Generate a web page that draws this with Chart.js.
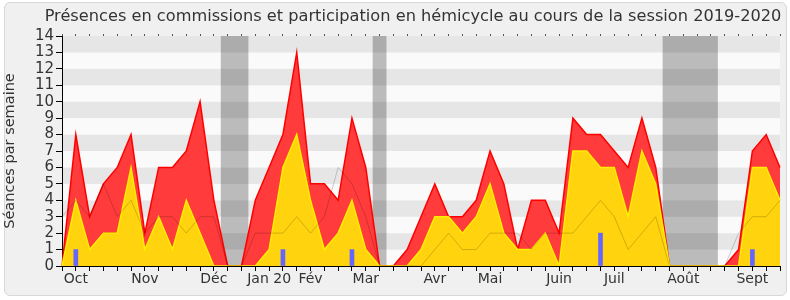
<!DOCTYPE html>
<html>
<head>
<meta charset="utf-8">
<script src="https://cdn.jsdelivr.net/npm/chart.js@4"></script>
<style>
  body { margin: 0; background: #fff; }
  #panel { position: absolute; left: 4px; top: 2px; width: 781px; height: 292px;
           background: #f0f0f0; border: 1px solid #d8d8d8; border-radius: 6px; }
  #chart { position: absolute; left: 0; top: 0; }
</style>
</head>
<body>
<div id="panel"></div>
<canvas id="chart" width="790" height="300"></canvas>
<script>
// one point per week, session 2019-2020
const monthIndex = [1, 6, 11, 15, 18, 22, 27, 31, 36, 40, 45, 50];
const monthNames = ["Oct", "Nov", "Déc", "Jan 20", "Fév", "Mar", "Avr", "Mai", "Juin", "Juil", "Août", "Sept"];

// presence totale (rouge), commissions (jaune), mediane (gris), questions (bleu)
const totalSeances = [0, 8, 3, 5, 6, 8, 2, 6, 6, 7, 10, 4, 0, 0, 4, 6, 8, 13, 5, 5, 4, 9, 6, 0, 0, 1, 3,
  5, 3, 3, 4, 7, 5, 1, 4, 4, 2, 9, 8, 8, 7, 6, 9, 6, 0, 0, 0, 0, 0, 1, 7, 8, 6];
const commissions = [0, 4, 1, 2, 2, 6, 1, 3, 1, 4, 2, 0, 0, 0, 0, 1, 6, 8, 4, 1, 2, 4, 1, 0, 0, 0, 1,
  3, 3, 2, 3, 5, 2, 1, 1, 2, 0, 7, 7, 6, 6, 3, 7, 5, 0, 0, 0, 0, 0, 0, 6, 6, 4];
const mediane = [3, 4, 3, 5, 3, 4, 2, 3, 3, 2, 3, 3, 0, 0, 2, 2, 2, 3, 2, 3, 6, 5, 3, 0, 0, 0, 0,
  1, 2, 1, 1, 2, 2, 2, 1, 2, 2, 2, 3, 4, 3, 1, 2, 3, 0, 0, 0, 0, 0, 2, 3, 3, 4];
const questions = [null, 1, null, null, null, null, null, null, null, null, null, null, null, null,
  null, null, 1, null, null, null, null, 1, null, null, null, null, null, null, null, null, null,
  null, null, null, null, null, null, null, null, 2, null, null, null, null, null, null, null, null,
  null, null, 1, null, null];

// vacances parlementaires (en semaines)
const vacStart = [11.5, 22.5, 43.5];
const vacEnd = [13.5, 23.5, 47.5];

const weekLabels = totalSeances.map((v, i) => {
  const k = monthIndex.indexOf(i);
  return k >= 0 ? monthNames[k] : "";
});

Chart.defaults.font.family = "'DejaVu Sans', sans-serif";
Chart.defaults.color = "#333";

const backgroundPlugin = {
  id: "bg",
  beforeDraw(chart) {
    const { ctx, chartArea: a, scales } = chart;
    const y = scales.y, x = scales.x;
    ctx.save();
    for (let v = 0; v < 14; v++) {
      ctx.fillStyle = v % 2 === 0 ? "#fafafa" : "#e6e6e6";
      const top = y.getPixelForValue(v + 1), bot = y.getPixelForValue(v);
      ctx.fillRect(a.left, top, a.right - a.left, bot - top);
    }
    ctx.fillStyle = "rgba(0,0,0,0.25)";
    vacStart.forEach((s, i) => {
      const x0 = x.getPixelForValue(s), x1 = x.getPixelForValue(vacEnd[i]);
      ctx.fillRect(x0, a.top, x1 - x0, a.bottom - a.top);
    });
    ctx.restore();
  },
  afterDraw(chart) {
    const ctx = chart.ctx;
    ctx.save();
    ctx.font = "16.2px 'DejaVu Sans'";
    ctx.fillStyle = "#333";
    ctx.textAlign = "center";
    ctx.textBaseline = "middle";
    ctx.fillText("Présences en commissions et participation en hémicycle au cours de la session 2019-2020", 413, 17);
    ctx.restore();
  }
};

new Chart(document.getElementById("chart"), {
  type: "line",
  data: {
    labels: weekLabels,
    datasets: [
      { type: "bar", data: questions, backgroundColor: "#6666ff", barThickness: 4, order: 1 },
      { data: mediane, borderColor: "rgba(0,0,0,0.18)", borderWidth: 1, pointRadius: 0, fill: false, order: 2 },
      { data: commissions, borderColor: "#ffee00", borderWidth: 1.5, pointRadius: 0,
        fill: "origin", backgroundColor: "#ffd30d", order: 3 },
      { data: totalSeances, borderColor: "#ff0000", borderWidth: 1.5, pointRadius: 0,
        fill: "origin", backgroundColor: "#ff3b3b", order: 4 }
    ]
  },
  options: {
    responsive: false,
    animation: false,
    devicePixelRatio: 1,
    layout: { padding: { top: 32, right: 10, left: 0, bottom: 0 } },
    plugins: { legend: { display: false }, tooltip: { enabled: false } },
    scales: {
      x: {
        offset: false,
        grid: { offset: false, drawOnChartArea: false, color: "#000", tickLength: 5 },
        border: { color: "#000" },
        ticks: { autoSkip: false, maxRotation: 0, padding: 0, font: { size: 14 }, color: "#333" },
        afterFit: (s) => { s.height = 34; }
      },
      xTop: {
        type: "category",
        position: "top",
        offset: false,
        grid: { offset: false, drawOnChartArea: false, color: "#555", tickLength: 2 },
        border: { display: false },
        ticks: { display: false },
        afterFit: (s) => { s.height = 4; }
      },
      y: {
        min: 0, max: 14,
        grid: { drawOnChartArea: false, color: "#000", tickLength: 6 },
        border: { color: "#000" },
        ticks: { stepSize: 1, autoSkip: false, font: { size: 15 }, color: "#333", padding: 2 },
        title: { display: true, text: "Séances par semaine", font: { size: 14.5 }, color: "#333", padding: 2 },
        afterFit: (s) => { s.width = 62; }
      }
    }
  },
  plugins: [backgroundPlugin]
});
</script>
</body>
</html>
